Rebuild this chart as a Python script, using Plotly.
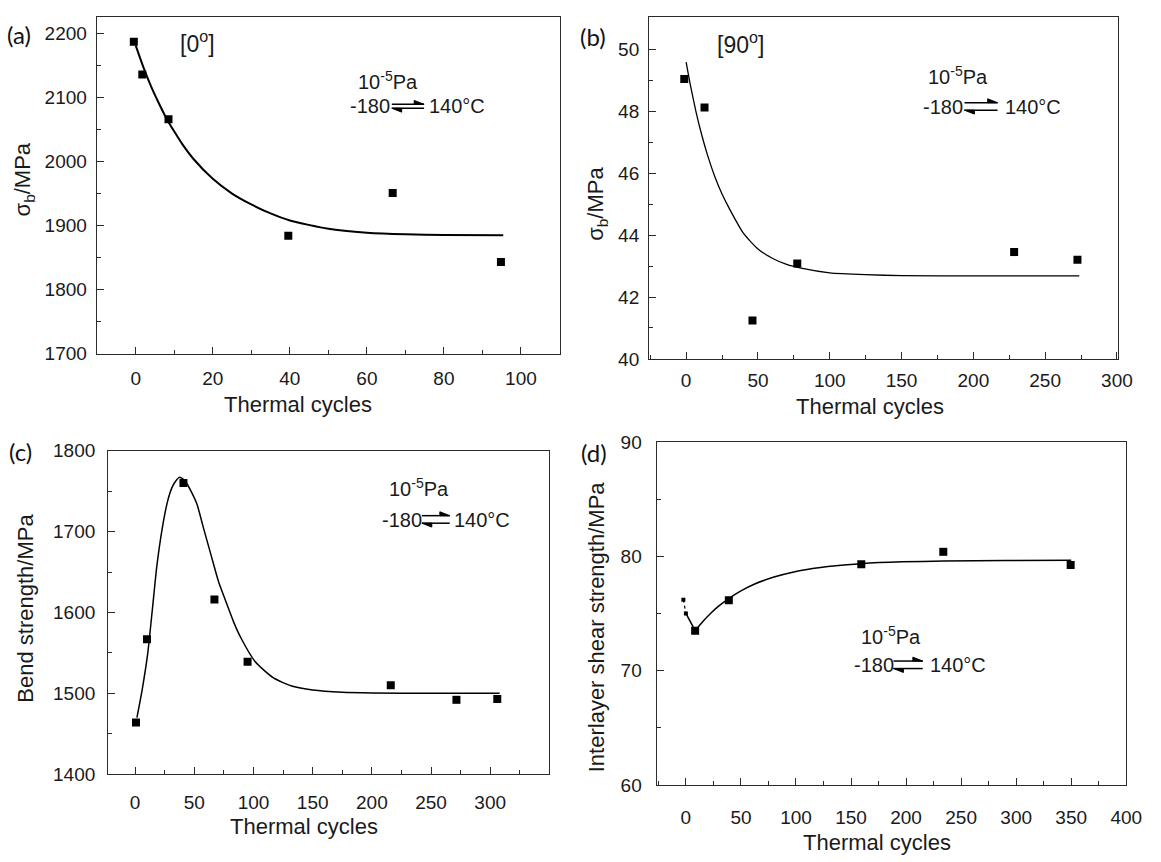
import plotly.graph_objects as go

W, H = 1161, 862

# ---- (a) [0°] laminate: sigma_b vs thermal cycles ----
a_cycles = [-0.5, 1.7, 8.5, 39.6, 66.7, 94.8]
a_strength = [2187, 2136, 2066, 1884, 1951, 1843]
a_fit_cycles = [0, 2, 4, 6, 8, 10, 12, 15, 20, 25, 30, 35, 40, 50, 60, 70, 80, 95.4]
a_fit_strength = [2181, 2147, 2117, 2091, 2067, 2047, 2028, 2004, 1973, 1950, 1933, 1919, 1908, 1895, 1889, 1886.5, 1885.5, 1885]

# ---- (b) [90°] laminate ----
b_cycles = [-1.3, 12.8, 46.2, 77.4, 228.4, 272.5]
b_strength = [49.03, 48.11, 41.24, 43.08, 43.45, 43.2]
b_fit_cycles = [0, 3, 7, 10, 15, 20, 25, 30, 40, 50, 60, 70, 80, 100, 125, 150, 200, 273.8]
b_fit_strength = [49.58, 48.83, 47.95, 47.38, 46.56, 45.88, 45.32, 44.86, 44.05, 43.55, 43.25, 43.05, 42.93, 42.78, 42.72, 42.69, 42.68, 42.68]

# ---- (c) bend strength ----
c_cycles = [0.7, 10, 40.8, 67, 95, 216, 271.5, 306]
c_strength = [1464, 1567, 1760, 1616, 1539, 1510, 1492, 1493]
c_fit_cycles = [1.5, 6, 10.6, 14.5, 18.3, 23, 27.5, 31, 34, 37.4, 40.5, 43, 47.5, 52.2, 58, 64.5, 70.5, 76.8, 83, 89.2,
                101.5, 116.9, 132.3, 150, 175, 200, 250, 308]
c_fit_strength = [1470, 1505, 1549, 1603, 1657, 1705, 1738, 1754, 1762, 1767, 1765, 1761, 1749, 1734, 1703, 1669, 1638,
                  1613, 1589, 1569, 1539, 1519, 1509, 1504, 1501.2, 1500.4, 1500, 1500]

# ---- (d) interlayer shear strength ----
d_cycles = [8.4, 39, 159.3, 233.8, 349.5]
d_strength = [73.48, 76.16, 79.30, 80.39, 79.24]
d_early_cycles = [-2.3, 0]
d_early_strength = [76.2, 75.0]
d_fit_cycles = [8.4, 15, 22.6, 30, 39, 50, 62.5, 80, 99, 115, 129, 159, 196, 234, 290, 350]
d_fit_strength = [73.5, 74.26, 75.02, 75.66, 76.3, 76.97, 77.57, 78.18, 78.65, 78.92, 79.1, 79.35, 79.51, 79.58, 79.63, 79.65]

x_title = "Thermal cycles"


def px(x):
    return x / W


def py(y):
    return 1 - y / H


fig = go.Figure()

LINE = "#2b2b2b"
TICKFONT = dict(family="Liberation Sans, Arial, sans-serif", size=19, color="#1a1a1a")


def axis(rng, dtick, minor_dtick, domain, anchor, standoff):
    return dict(
        range=rng, domain=domain, anchor=anchor,
        showline=True, mirror=True, linecolor=LINE, linewidth=1.4,
        ticks="inside", ticklen=7, tickwidth=1.2, tickcolor=LINE,
        tick0=0, dtick=dtick,
        minor=dict(ticks="inside", ticklen=4, tickwidth=1.2, tickcolor=LINE, tick0=0, dtick=minor_dtick),
        showgrid=False, zeroline=False, tickfont=TICKFONT,
        ticklabelstandoff=standoff,
    )


def add_panel(xa, ya, cx, cy, fx, fy, lw):
    fig.add_trace(go.Scatter(x=fx, y=fy, mode="lines", xaxis=xa, yaxis=ya,
                             line=dict(color="black", width=lw, shape="spline", smoothing=0.6),
                             showlegend=False, hoverinfo="skip"))
    fig.add_trace(go.Scatter(x=cx, y=cy, mode="markers", xaxis=xa, yaxis=ya,
                             marker=dict(symbol="square", size=8, color="black"),
                             showlegend=False))


add_panel("x", "y", a_cycles, a_strength, a_fit_cycles, a_fit_strength, 2.0)
add_panel("x2", "y2", b_cycles, b_strength, b_fit_cycles, b_fit_strength, 1.3)
add_panel("x3", "y3", c_cycles, c_strength, c_fit_cycles, c_fit_strength, 1.5)
add_panel("x4", "y4", d_cycles, d_strength, d_fit_cycles, d_fit_strength, 1.5)

# early points of (d): small markers joined by a dotted stroke, then a short link to the minimum
fig.add_trace(go.Scatter(x=d_early_cycles, y=d_early_strength, mode="lines+markers", xaxis="x4", yaxis="y4",
                         line=dict(color="black", width=1.2, dash="dot"),
                         marker=dict(symbol="square", size=4, color="black"),
                         showlegend=False))
fig.add_trace(go.Scatter(x=[d_early_cycles[-1], d_fit_cycles[0]], y=[d_early_strength[-1], d_fit_strength[0]],
                         mode="lines", xaxis="x4", yaxis="y4",
                         line=dict(color="black", width=1.5), showlegend=False, hoverinfo="skip"))

fig.update_layout(
    width=W, height=H, margin=dict(l=0, r=0, t=0, b=0),
    paper_bgcolor="white", plot_bgcolor="white",
    xaxis=axis([-10.1, 110.1], 20, 10, [px(98.2), px(567.7)], "y", 7),
    yaxis=axis([1700, 2225.5], 100, 50, [py(352.3), py(7.3)], "x", 5),
    xaxis2=axis([-25.7, 301], 50, 25, [px(658.3), px(1134)], "y2", 4),
    yaxis2=axis([40, 51.03], 2, 1, [py(357.7), py(7.3)], "x2", 5),
    xaxis3=axis([-22.7, 349.4], 50, 25, [px(109.8), px(556.3)], "y3", 11),
    yaxis3=axis([1400, 1800], 100, 50, [py(783.3), py(451.7)], "x3", 8),
    xaxis4=axis([-26.5, 400], 50, 25, [px(665.9), px(1142)], "y4", 15),
    yaxis4=axis([60, 90], 10, 5, [py(794.3), py(442.7)], "x4", 10),
)

ann = []
TXT = "Liberation Sans, Arial, sans-serif"


def text(x, y, s, size, xanchor="center", yanchor="middle", angle=0, family=TXT, color="#1a1a1a"):
    ann.append(dict(x=px(x), y=py(y), xref="paper", yref="paper", text=s, showarrow=False,
                    xanchor=xanchor, yanchor=yanchor, textangle=angle,
                    font=dict(family=family, size=size, color=color)))


# panel letters
for lbl, x, y in [("(a)", 19, 25), ("(b)", 601, 27), ("(c)", 21, 453), ("(d)", 602, 454)]:
    text(x, y, lbl, 24, family="Lato, Open Sans, sans-serif", color="#111111")

# fibre orientation tags
text(200, 33, "[0<sup>o</sup>]", 23)
text(751, 34, "[90<sup>o</sup>]", 23)

# axis titles
text(302, 404, x_title, 22)
text(882, 406, x_title, 22)
text(308, 837, x_title, 22)
text(889, 853, x_title, 22)
text(24, 174, "σ<sub>b</sub>/MPa", 22, angle=-90)
text(606, 199, "σ<sub>b</sub>/MPa", 22, angle=-90)
text(25, 613, "Bend strength/MPa", 22, angle=-90)
text(605, 632, "Interlayer shear strength/MPa", 22, angle=-90)

shapes = []


def cycling_label(p_left, p_cy, m_left, m_cy, ax0, ax1, t_left, y_top, y_bot):
    text(p_left, p_cy, "10<sup>-5</sup>Pa", 20, xanchor="left")
    text(m_left, m_cy, "-180", 20, xanchor="left")
    text(t_left, m_cy, "140°C", 20, xanchor="left")
    # upper harpoon pointing right, lower harpoon pointing left
    for y0, head_x, sign, barb in [(y_top, ax1, -1, -1), (y_bot, ax0, 1, 1)]:
        shapes.append(dict(type="line", xref="paper", yref="paper",
                           x0=px(ax0), x1=px(ax1), y0=py(y0), y1=py(y0),
                           line=dict(color="black", width=1.5)))
        hx2 = head_x + sign * 10
        shapes.append(dict(type="path", xref="paper", yref="paper",
                           path=f"M {px(head_x)} {py(y0)} L {px(hx2)} {py(y0)} L {px(hx2)} {py(y0 + barb * 4)} Z",
                           fillcolor="black", line=dict(color="black", width=1)))


cycling_label(360.7, 72, 352.7, 98.3, 397.3, 430, 432.7, 96.7, 100.7)
cycling_label(939, 67, 933.7, 99, 978, 1011.5, 1017, 95, 102.7)
cycling_label(392.6, 489, 385, 522.3, 427.8, 456, 458, 518.3, 526)
cycling_label(870.7, 641, 864.4, 671.7, 906, 935.6, 941, 667.3, 675)

fig.update_layout(annotations=ann, shapes=shapes)

fig.write_html("out.html")
